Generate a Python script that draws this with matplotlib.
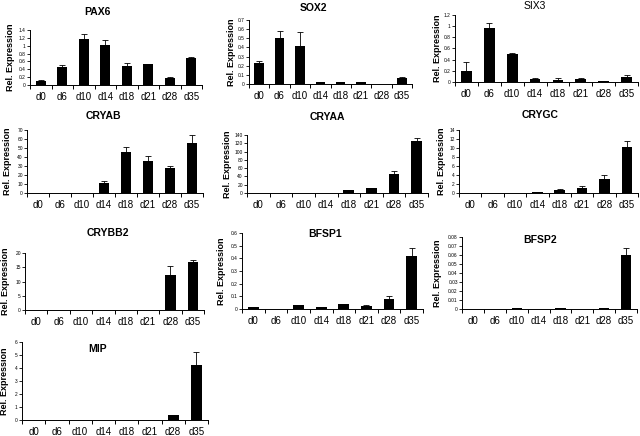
import matplotlib
matplotlib.use("Agg")
import matplotlib.pyplot as plt
from matplotlib.ticker import FuncFormatter, MultipleLocator, FixedLocator
import numpy as np

plt.rcParams['font.family'] = ['Liberation Sans', 'DejaVu Sans']

days = ["d0", "d6", "d10", "d14", "d18", "d21", "d28", "d35"]

pax6 = [0.11, 0.47, 1.16, 1.02, 0.49, 0.53, 0.19, 0.68]
pax6_err = [0.01, 0.05, 0.13, 0.12, 0.06, 0.0, 0.02, 0.02]
sox2 = [0.226, 0.507, 0.416, 0.02, 0.02, 0.02, 0.005, 0.07]
sox2_err = [0.03, 0.075, 0.15, 0.003, 0.005, 0.002, 0.0, 0.005]
six3 = [0.2, 0.97, 0.51, 0.06, 0.04, 0.06, 0.01, 0.09]
six3_err = [0.15, 0.08, 0.01, 0.01, 0.03, 0.02, 0.005, 0.04]
cryab = [0, 0, 0, 11, 45, 35, 28, 56]
cryab_err = [0, 0, 0, 2, 6, 6, 2, 8]
cryaa = [0, 0, 0, 0, 7, 11, 47, 126]
cryaa_err = [0, 0, 0, 0, 0.5, 2, 7, 6]
crygc = [0, 0, 0, 0.15, 0.6, 1.0, 3.2, 10.2]
crygc_err = [0, 0, 0, 0.05, 0.25, 0.5, 0.8, 1.4]
crybb2 = [0, 0, 0, 0, 0, 0, 12.4, 16.7]
crybb2_err = [0, 0, 0, 0, 0, 0, 3.2, 1.0]
bfsp1 = [0.015, 0.003, 0.03, 0.015, 0.04, 0.02, 0.08, 0.42]
bfsp1_err = [0.003, 0.0, 0.002, 0.003, 0.002, 0.01, 0.02, 0.06]
bfsp2 = [0.0, 0.0, 0.001, 0.0, 0.001, 0.0, 0.0015, 0.06]
bfsp2_err = [0, 0, 0, 0, 0, 0, 0, 0.008]
mip = [0, 0, 0, 0, 0, 0, 0.38, 4.26]
mip_err = [0, 0, 0, 0, 0, 0, 0, 0.95]

W, H = 640, 436
fig = plt.figure(figsize=(W / 100, H / 100), dpi=100)

# name, values, errors, ymax, ystep, axes px (left, right, top, bottom),
# title px (x, y), title weight, ylabel x px
panels = [
    ("PAX6", pax6, pax6_err, 1.4, 0.2, (30, 202, 30, 85), (97, 12), "bold", 11),
    ("SOX2", sox2, sox2_err, 0.7, 0.1, (249, 412, 20, 84), (313, 8), "bold", 231),
    ("SIX3", six3, six3_err, 1.2, 0.2, (455, 638, 15, 82), (535, 6), "normal", 437),
    ("CRYAB", cryab, cryab_err, 70, 10, (27, 203, 130, 193), (103, 116), "bold", 8),
    ("CRYAA", cryaa, cryaa_err, 140, 20, (247, 428, 135, 193), (327, 117), "bold", 228),
    ("CRYGC", crygc, crygc_err, 14, 2, (459, 638, 130, 193), (540, 115), "bold", 441),
    ("CRYBB2", crybb2, crybb2_err, 20, 5, (25, 204, 253, 310), (108, 233), "bold", 6),
    ("BFSP1", bfsp1, bfsp1_err, 0.6, 0.1, (242, 423, 233, 309), (325, 234), "bold", 221),
    ("BFSP2", bfsp2, bfsp2_err, 0.08, 0.01, (462, 637, 237, 309), (540, 240), "bold", 437),
    ("MIP", mip, mip_err, 6, 1, (22, 208, 342, 420), (98, 349), "bold", 5),
]

fmt = FuncFormatter(lambda v, p: "%g" % round(v, 6))

for name, vals, errs, ymax, ystep, (l, r, t, b), (tx, ty), tw, ylx in panels:
    ax = fig.add_axes([l / W, (H - b) / H, (r - l) / W, (b - t) / H])
    x = np.arange(len(days))
    ax.bar(x, vals, width=0.47, color="black", zorder=2)
    v = np.array(vals, dtype=float)
    e = np.array(errs, dtype=float)
    m = e > 0
    ax.errorbar(x[m], v[m], yerr=[np.zeros(m.sum()), e[m]], fmt="none",
                ecolor="black", elinewidth=0.6, capsize=2, capthick=0.6, zorder=3)
    ax.set_xlim(-0.5, len(days) - 0.5)
    ax.set_ylim(0, ymax)
    ax.yaxis.set_major_locator(MultipleLocator(ystep))
    ax.yaxis.set_major_formatter(fmt)
    ax.xaxis.set_major_locator(FixedLocator(np.arange(len(days) + 1) - 0.5))
    ax.xaxis.set_major_formatter(FuncFormatter(lambda v, p: ""))
    ax.set_xticks(x, minor=True)
    ax.set_xticklabels(days, minor=True, fontsize=7)
    ax.tick_params(axis="x", which="minor", length=0, pad=5)
    ax.tick_params(axis="x", which="major", length=3, width=0.7, direction="out")
    ax.tick_params(axis="y", length=2, width=0.6, labelsize=3.5, pad=1)
    for s in ("top", "right"):
        ax.spines[s].set_visible(False)
    for s in ("left", "bottom"):
        ax.spines[s].set_linewidth(0.7)
    fig.text(tx / W, 1 - ty / H, name, ha="center", va="center",
             fontsize=7.5, fontweight=tw)
    fig.text(ylx / W, 1 - ((t + b) / 2) / H, "Rel. Expression", rotation=90,
             ha="center", va="center", fontsize=6.5, fontweight="bold")

fig.savefig("out.png", dpi=100)
